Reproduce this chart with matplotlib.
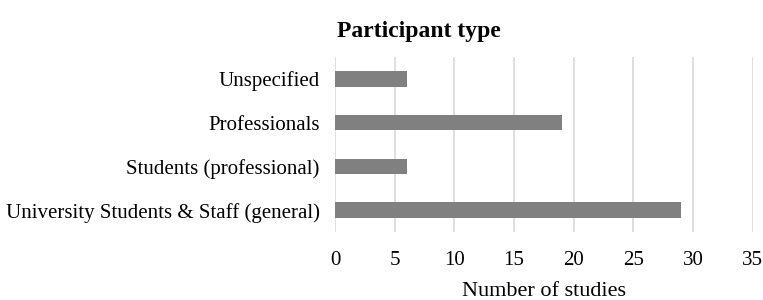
import matplotlib
matplotlib.use("Agg")
import matplotlib.pyplot as plt

categories = ["University Students & Staff (general)", "Students (professional)",
              "Professionals", "Unspecified"]
values = [29, 6, 19, 6]
xticks = [0, 5, 10, 15, 20, 25, 30, 35]

plt.rcParams['font.family'] = ['Liberation Serif', 'DejaVu Serif']

W, H = 763, 300
fig = plt.figure(figsize=(W/100, H/100), dpi=100)
ax = fig.add_axes([335/W, 1-232/H, (752.7-335)/W, (232-57)/H])

ax.barh(range(len(categories)), values, height=0.35, color="#808080", zorder=3)
ax.set_ylim(-0.5, len(categories)-0.5)
ax.set_xlim(0, 35)
ax.set_xticks(xticks)
ax.set_yticks(range(len(categories)))
ax.set_yticklabels(categories)
ax.tick_params(axis='both', length=0, labelsize=15, colors="#000000")
ax.tick_params(axis='y', pad=11)
ax.tick_params(axis='x', pad=14)
ax.grid(axis='x', color="#d9d9d9", linewidth=1.2, zorder=0)
for s in ax.spines.values():
    s.set_visible(False)
ax.set_xlabel("Number of studies", fontsize=16, labelpad=8)
fig.text(419/W, 1-31/H, "Participant type", ha='center', va='center',
         fontsize=17, fontweight='bold')

fig.savefig("out.png", dpi=100)
